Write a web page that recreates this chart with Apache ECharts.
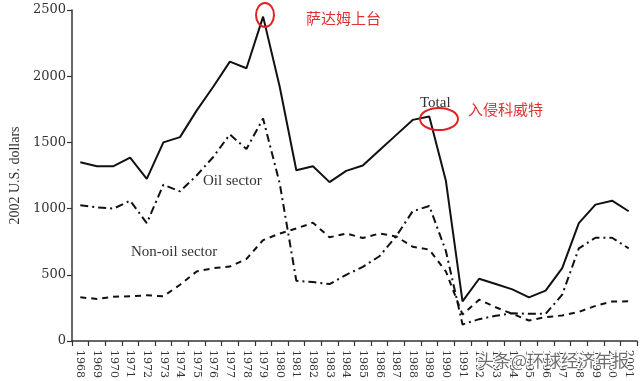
<!DOCTYPE html>
<html>
<head>
<meta charset="utf-8">
<script src="https://cdn.jsdelivr.net/npm/echarts@6/dist/echarts.min.js"></script>
<style>
html,body{margin:0;padding:0;background:#fff;}
#chart{width:640px;height:381px;}
</style>
</head>
<body>
<div id="chart"></div>
<script>
var years = ['1968','1969','1970','1971','1972','1973','1974','1975','1976','1977','1978','1979','1980','1981','1982','1983','1984','1985','1986','1987','1988','1989','1990','1991','1992','1993','1994','1995','1996','1997','1998','1999','2000','2001'];
var totalValues = [1350,1320,1320,1385,1225,1500,1540,1740,1920,2110,2060,2450,1920,1290,1320,1200,1285,1325,1440,1555,1670,1695,1210,300,470,430,390,330,380,550,890,1030,1060,980];
var oilValues = [1025,1010,1000,1060,890,1180,1130,1250,1390,1560,1450,1680,1190,455,445,430,500,560,640,790,980,1020,680,125,165,190,210,205,205,350,700,780,780,700];
var nonOilValues = [330,318,335,338,345,338,425,525,550,562,620,762,812,850,893,783,812,778,812,790,712,690,525,200,312,255,205,155,180,193,220,265,298,300];
var yTicks = [0,500,1000,1500,2000,2500];

var chart = echarts.init(document.getElementById('chart'), null, {renderer:'canvas'});
var axisCol = '#333';
var serif = '"DejaVu Serif", serif';
var lserif = '"Liberation Serif", serif';
chart.setOption({
  animation:false,
  backgroundColor:'#fff',
  grid:{left:69, right:3, top:10, bottom:38, containLabel:false},
  xAxis:{
    type:'category', data:years, boundaryGap:true,
    axisLine:{lineStyle:{color:axisCol, width:1.5}},
    axisTick:{show:true, inside:false, length:5, alignWithLabel:false, lineStyle:{color:axisCol, width:1.2}},
    axisLabel:{rotate:-90, interval:0, margin:9, fontFamily:serif, fontSize:11, color:'#333'},
    splitLine:{show:false}
  },
  yAxis:{
    type:'value', min:yTicks[0], max:yTicks[yTicks.length-1], interval:500,
    name:'2002 U.S. dollars', nameLocation:'middle', nameGap:49, nameRotate:90,
    nameTextStyle:{fontFamily:lserif, fontSize:14, color:'#333'},
    axisLine:{show:true, lineStyle:{color:axisCol, width:1.5}},
    axisTick:{show:true, inside:false, length:5, lineStyle:{color:axisCol, width:1.2}},
    axisLabel:{margin:6, fontFamily:serif, fontSize:13, color:'#333', formatter:function(v){return String(v);}},
    splitLine:{show:false}
  },
  series:[
    {name:'Total', type:'line', data:totalValues, symbol:'none', lineStyle:{color:'#111', width:2, type:'solid'}, z:3},
    {name:'Oil sector', type:'line', data:oilValues, symbol:'none', lineStyle:{color:'#111', width:2, type:[8,4,2,4]}, z:2},
    {name:'Non-oil sector', type:'line', data:nonOilValues, symbol:'none', lineStyle:{color:'#111', width:2, type:[6,5]}, z:2}
  ],
  graphic:[
    {type:'text', left:420, top:96, style:{text:'Total', font:'15px "Liberation Serif", serif', fill:'#333'}},
    {type:'text', left:203, top:174, style:{text:'Oil sector', font:'15px "Liberation Serif", serif', fill:'#333'}},
    {type:'text', left:131, top:245, style:{text:'Non-oil sector', font:'15px "Liberation Serif", serif', fill:'#333'}},
    {type:'ellipse', shape:{cx:265, cy:15, rx:9, ry:12}, style:{fill:'none', stroke:'#e02020', lineWidth:2}, z:10},
    {type:'ellipse', shape:{cx:439, cy:119, rx:19, ry:11}, style:{fill:'none', stroke:'#e02020', lineWidth:2}, z:10},
    {type:'text', left:306, top:11, style:{text:'萨达姆上台', font:'15px "Noto Sans CJK SC", sans-serif', fill:'#e03030'}},
    {type:'text', left:468, top:102, style:{text:'入侵科威特', font:'15px "Noto Sans CJK SC", sans-serif', fill:'#e03030'}},
    {type:'text', left:476, top:351, style:{text:'头条@环球经济年报', font:'17px "Noto Sans CJK SC", sans-serif', fill:'rgba(60,60,60,0.75)', stroke:'#fff', lineWidth:2}, z:20}
  ]
});
</script>
</body>
</html>
